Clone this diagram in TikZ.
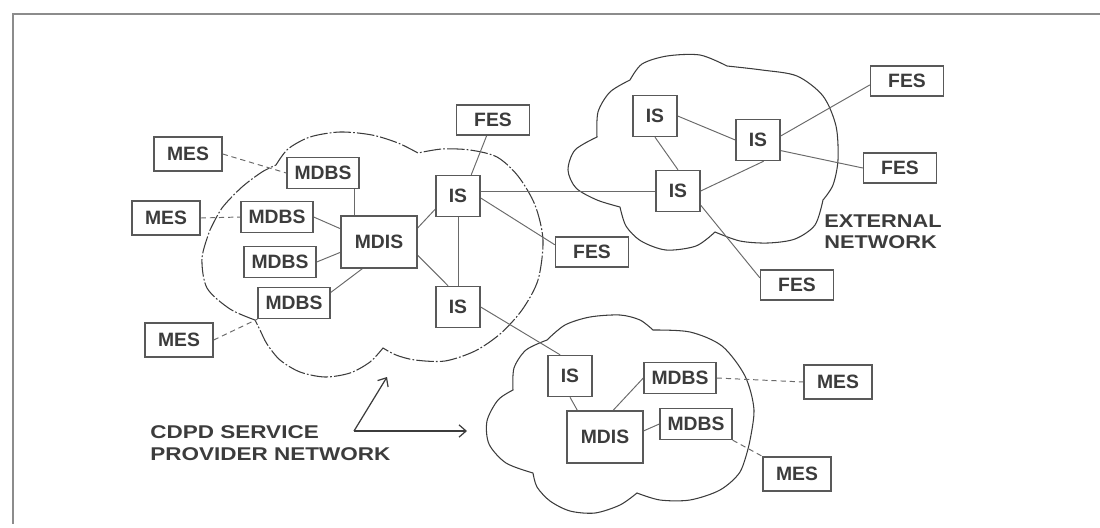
\documentclass[tikz,border=0pt]{standalone}
\usepackage{fontspec}
\setmainfont{Liberation Sans}
\usepackage{graphicx}
\usetikzlibrary{arrows.meta}
\definecolor{ink}{HTML}{3C3C3C}
\definecolor{wire}{HTML}{6A6A6A}
\definecolor{rim}{HTML}{8C8C8C}
\pgfdeclarelayer{bg}
\pgfsetlayers{bg,main}
\begin{document}
\begin{tikzpicture}[x=0.02cm,y=-0.02cm,
  box/.style={draw=ink!85, line width=0.8pt, fill=white, inner sep=0pt, text=ink,
              font=\fontsize{11}{13}\selectfont\bfseries},
  mesbox/.style={box, minimum width=1.36cm, minimum height=0.68cm},
  mdbsbox/.style={box, minimum width=1.44cm, minimum height=0.62cm},
  mdisbox/.style={box, minimum width=1.52cm, minimum height=1.04cm},
  isbox/.style={box, minimum width=0.88cm, minimum height=0.82cm},
  fesbox/.style={box, minimum width=1.46cm, minimum height=0.60cm},
  link/.style={draw=wire, line width=0.55pt},
  radiolink/.style={draw=wire, line width=0.55pt, dash pattern=on 3pt off 2.2pt},
  cloudline/.style={draw=ink, line width=0.6pt},
  pointer/.style={draw=ink, line width=0.7pt, -{Straight Barb[length=4pt,width=7pt]}},
  caption/.style={anchor=west, inner sep=0pt, text=ink}]

\useasboundingbox (0,0) rectangle (1100,528);

% page frame
\draw[rim, line width=1.2pt] (1100,14) -- (13,14) -- (13,524);

% ---------- boxes ----------
% CDPD service provider network (left)
\node[mesbox]  (mes1)  at (188,154) {MES};
\node[mesbox]  (mes2)  at (166,218) {MES};
\node[mesbox]  (mes3)  at (179,340) {MES};
\node[mdbsbox] (mdbs1) at (323,173) {MDBS};
\node[mdbsbox] (mdbs2) at (277,217) {MDBS};
\node[mdbsbox] (mdbs3) at (280,262) {MDBS};
\node[mdbsbox] (mdbs4) at (294,303) {MDBS};
\node[mdisbox] (mdis1) at (379,242) {MDIS};
\node[isbox]   (is1)   at (458,196) {IS};
\node[isbox]   (is2)   at (458,307) {IS};
\node[fesbox]  (fes1)  at (493,120) {FES};
\node[fesbox]  (fes2)  at (592,252) {FES};

% external network
\node[isbox]   (is3)   at (655,116) {IS};
\node[isbox]   (is4)   at (758,140) {IS};
\node[isbox]   (is5)   at (678,191) {IS};
\node[fesbox]  (fes3)  at (907,81)  {FES};
\node[fesbox]  (fes4)  at (900,168) {FES};
\node[fesbox]  (fes5)  at (797,285) {FES};

% second CDPD service provider network (bottom)
\node[isbox]   (is6)   at (570,376) {IS};
\node[mdbsbox] (mdbs5) at (680,378) {MDBS};
\node[mdbsbox] (mdbs6) at (696,424) {MDBS};
\node[mdisbox] (mdis2) at (605,437) {MDIS};
\node[mesbox]  (mes4)  at (838,382) {MES};
\node[mesbox]  (mes5)  at (797,474) {MES};

% ---------- captions ----------
\node[caption] (extlabel) at (824,234)
  {\scalebox{1.18}[1]{\fontsize{10.5}{12}\selectfont\bfseries
   \begin{tabular}{@{}l@{}}EXTERNAL\\NETWORK\end{tabular}}};
\node[caption] (cdpdlabel) at (150,445)
  {\scalebox{1.22}[1]{\fontsize{10.5}{12.5}\selectfont\bfseries
   \begin{tabular}{@{}l@{}}CDPD SERVICE\\PROVIDER NETWORK\end{tabular}}};
\coordinate (fork) at (354,431);
\coordinate (tipup) at (387,377);
\coordinate (tipright) at (467,431);
\draw[pointer] (fork) -- (tipup);
\draw[pointer] (fork) -- (tipright);

\begin{pgfonlayer}{bg}
% ---------- clouds ----------
\draw[cloudline, dash pattern=on 10pt off 1.2pt on 1pt off 1.2pt]
  plot[smooth] coordinates {(255,320) (230,309) (207,288) (202,258) (210,230)}
  -- plot[smooth] coordinates {(210,230) (222,208) (242,187) (262,172) (276,165)}
  -- plot[smooth] coordinates {(276,165) (288,149) (310,137) (340,132) (372,135) (398,143) (418,153)}
  -- plot[smooth] coordinates {(418,153) (442,149) (470,150) (497,157) (518,176) (535,205) (543,240) (538,280) (522,310) (500,334) (475,351) (445,361) (415,360) (396,355) (383,348)}
  -- plot[smooth] coordinates {(383,348) (370,362) (350,373) (325,377) (300,372) (280,360) (267,344) (260,330) (255,320)};

\draw[cloudline]
  plot[smooth] coordinates {(620,207) (597,200) (576,188) (568,170) (575,150) (597,137)}
  -- plot[smooth] coordinates {(597,137) (598,112) (610,92) (630,80)}
  -- plot[smooth] coordinates {(630,80) (642,64) (667,56) (700,55) (727,66)}
  -- plot[smooth] coordinates {(727,66) (762,70) (797,76) (823,96) (836,126) (838,160) (833,185) (823,200)}
  -- plot[smooth] coordinates {(823,200) (815,225) (795,239) (768,243) (740,241) (715,232)}
  -- plot[smooth] coordinates {(715,232) (696,246) (666,250) (641,241) (626,226) (620,207)};

\draw[cloudline]
  plot[smooth] coordinates {(533,473) (506,463) (489,444) (487,421) (498,400) (513,390)}
  -- plot[smooth] coordinates {(513,390) (514,368) (526,350) (547,340)}
  -- plot[smooth] coordinates {(547,340) (565,325) (590,317) (620,315) (640,320) (653,330)}
  -- plot[smooth] coordinates {(653,330) (690,332) (722,346) (745,376) (754,410) (749,445)}
  -- plot[smooth] coordinates {(749,445) (740,472) (720,490) (690,500) (660,500) (637,493)}
  -- plot[smooth] coordinates {(637,493) (620,505) (595,513) (570,511) (550,501) (537,487) (533,473)};

% ---------- connections ----------
% left network
\draw[radiolink] (mes1.east) -- (mdbs1.west);
\draw[radiolink] (mes2.east) -- (mdbs2.west);
\draw[radiolink] (mes3.east) -- (mdbs4.south west);
\draw[link] (mdbs1.-27) -- (mdbs1.-27 |- mdis1.north);
\draw[link] (mdbs2.east) -- (mdis1.161);
\draw[link] (mdbs3.east) -- (mdis1.195);
\draw[link] (mdbs4.16) -- (mdis1.238);
\draw[link] (mdis1.20) -- (is1.210);
\draw[link] (mdis1.-19) -- (is2.115);
\draw[link] (is1.south) -- (is2.north);
\draw[link] (is1.58) -- (fes1.248);
\draw[link] (is1.-5) -- (fes2.169);
\draw[link] (is1.east |- is5.west) -- (is5.west);
\draw[link] (is2.east) -- (is6.115);
% external network
\draw[link] (is3.east) -- (is4.west);
\draw[link] (is3.south) -- (is5.north);
\draw[link] (is4.-75) -- (is5.east);
\draw[link] (is4.10) -- (fes3.186);
\draw[link] (is4.-25) -- (fes4.west);
\draw[link] (is5.-32) -- (fes5.169);
% bottom network
\draw[link] (is6.south) -- (mdis2.136);
\draw[link] (mdis2.73) -- (mdbs5.west);
\draw[link] (mdis2.9) -- (mdbs6.west);
\draw[radiolink] (mdbs5.east) -- (mes4.west);
\draw[radiolink] (mdbs6.south east) -- (mes5.north west);
\end{pgfonlayer}
\end{tikzpicture}
\end{document}
